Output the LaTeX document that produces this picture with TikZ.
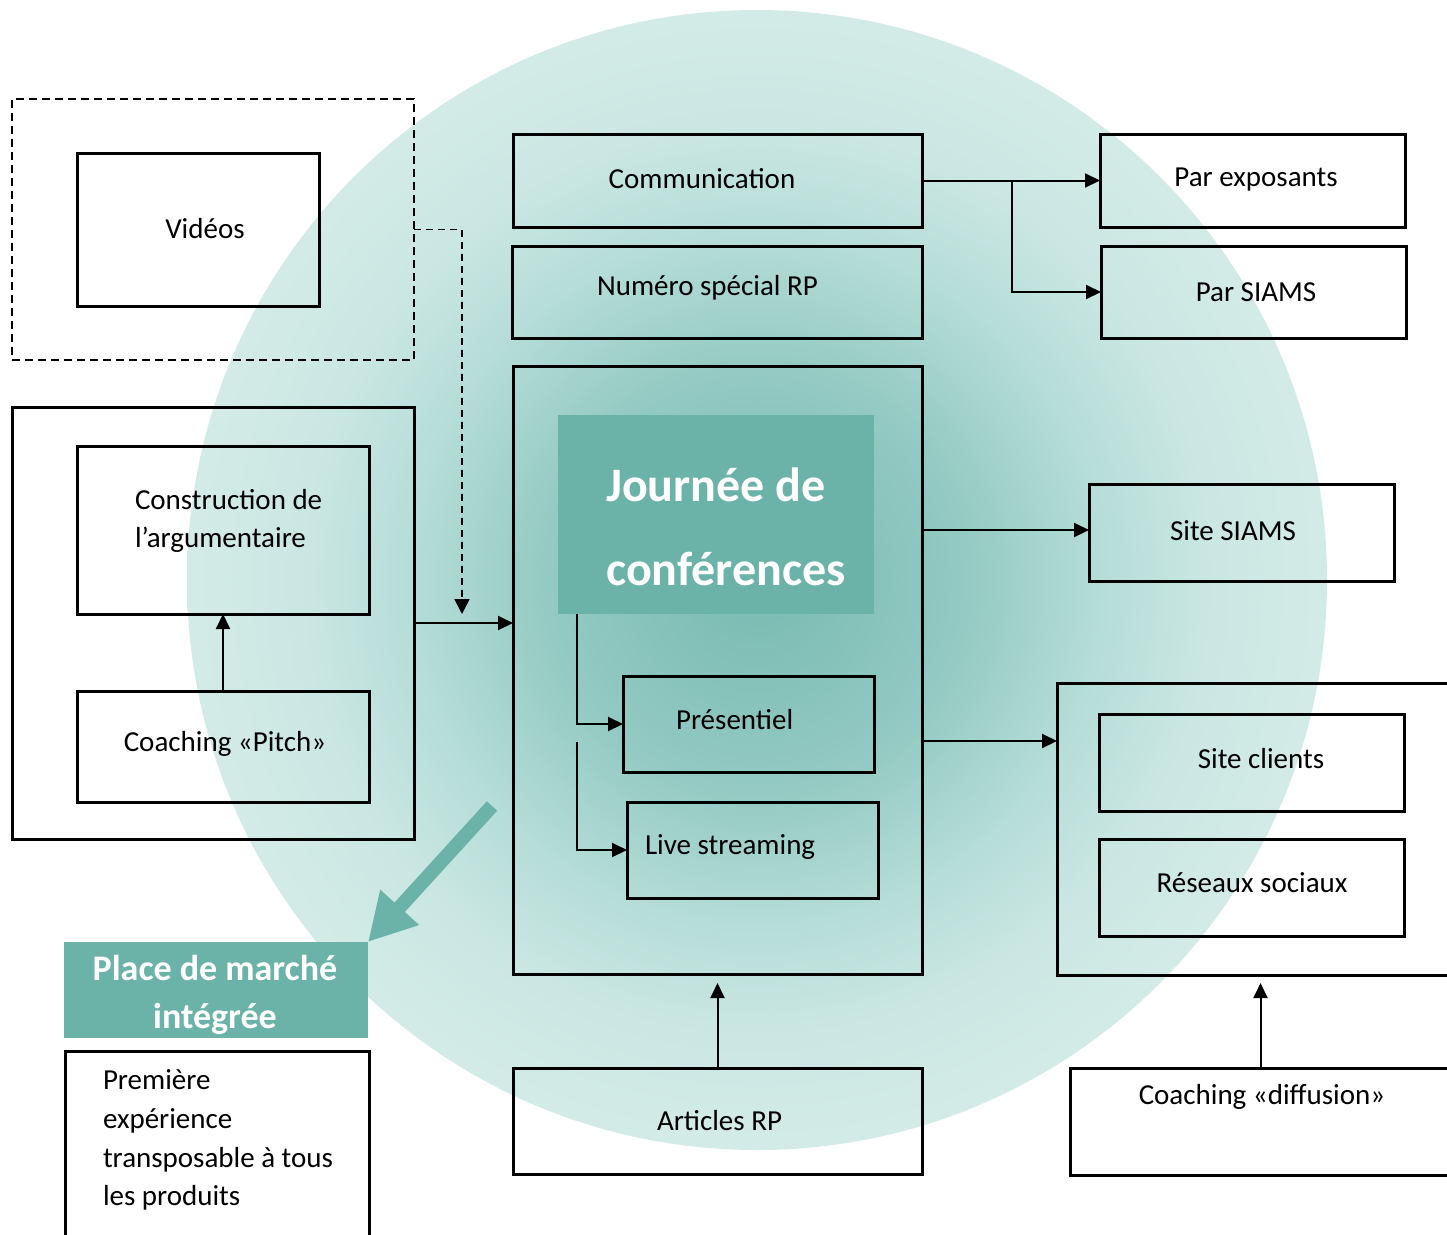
\documentclass[tikz,border=0pt]{standalone}
\usepackage{fontspec}
\setmainfont{Carlito}
\usetikzlibrary{arrows.meta}
\definecolor{tealmain}{HTML}{6BB3A9}
\definecolor{circA}{HTML}{78BAB1}
\definecolor{circB}{HTML}{94CAC3}
\definecolor{circC}{HTML}{B6DDD8}
\definecolor{circD}{HTML}{CBE7E3}
\definecolor{circE}{HTML}{D3EBE7}
\definecolor{circF}{HTML}{D5ECE8}
\pgfdeclareradialshading{circshade}{\pgfpoint{0bp}{0bp}}{color(0bp)=(circA); color(9.3bp)=(circB); color(15.2bp)=(circC); color(20.1bp)=(circD); color(24.8bp)=(circE); color(35.4bp)=(circF); color(50bp)=(circF)}
\newcommand{\mybox}[6][]{\node[boxst,#1,minimum width={(#5)-(#3)},minimum height={(#6)-(#4)}] (#2) at ({((#3)+(#5))/2},{((#4)+(#6))/2}) {};}
\begin{document}
\begin{tikzpicture}[x=1pt,y=-1pt,
  boxst/.style={draw=black, line width=3pt, inner sep=0pt, outer sep=0pt},
  dashbox/.style={draw=black, line width=2.2pt, dash pattern=on 8pt off 5pt},
  fillbox/.style={draw=none, fill=tealmain},
  txt/.style={inner sep=0pt, outer sep=0pt, font=\fontsize{29}{35}\selectfont, anchor=base},
  txtl/.style={txt, anchor=base west},
  ttl/.style={inner sep=0pt, text=white, font=\bfseries\fontsize{48}{58}\selectfont, anchor=base west},
  ptl/.style={inner sep=0pt, text=white, font=\bfseries\fontsize{36}{44}\selectfont, anchor=base},
  conn/.style={line width=2pt, -{Triangle[length=15pt,width=14pt]}},
  dconn/.style={line width=1.8pt, dash pattern=on 7pt off 5pt, -{Triangle[length=15pt,width=15pt]}},
  bigarrow/.style={line width=14pt, draw=tealmain, -{Triangle[length=47pt,width=49pt]}}]
\clip (0,0) rectangle (1447,1234);
\fill[white] (0,0) rectangle (1447,1234);
% background circle
\shade[shading=circshade] (757,580) circle[radius=570pt];

% left side
\mybox[dashbox]{dashb}{12}{99}{414}{360}
\mybox{vid}{77}{153}{319}{306}
\mybox{leftgrp}{12}{407}{414}{839}
\mybox{cons}{77}{446}{369}{614}
\mybox{pitch}{77}{691}{369}{802}

% centre column
\mybox{comm}{513}{134}{922}{227}
\mybox{num}{512}{246}{922}{338}
\mybox{jour}{513}{366}{922}{974}
\mybox[fillbox]{title}{558}{415}{874}{614}
\mybox{pres}{623}{676}{874}{772}
\mybox{live}{627}{802}{878}{898}
\mybox{art}{513}{1068}{922}{1174}

% right side
\mybox{parexp}{1100}{134}{1405}{227}
\mybox{parsiams}{1101}{246}{1406}{338}
\mybox{sitesiams}{1089}{484}{1394}{581}
\mybox{rgrp}{1057}{683}{1470}{975}
\mybox{siteclients}{1099}{714}{1404}{811}
\mybox{reseaux}{1099}{839}{1404}{936}
\mybox{coachdiff}{1070}{1068}{1470}{1175}

% bottom left
\mybox[fillbox]{place}{64}{942}{368}{1038}
\mybox{premiere}{65}{1051}{369}{1260}

% texts
\node[txt] (tvid) at (205,238) {Vidéos};
\node[txt] (tcomm) at (702,188.5) {Communication};
\node[txt] (tnum) at (707.5,295) {Numéro spécial RP};
\node[txt] (tparexp) at (1256,186) {Par exposants};
\node[txt] (tparsiams) at (1256,301.5) {Par SIAMS};
\node[txt] (tsitesiams) at (1233,540.5) {Site SIAMS};
\node[txt] (tsiteclients) at (1261,768.5) {Site clients};
\node[txt] (treseaux) at (1252,892.5) {Réseaux sociaux};
\node[txt] (tcoachdiff) at (1262,1104) {Coaching «diffusion»};
\node[txt] (tart) at (719.5,1130.5) {Articles RP};
\node[txtl] (tpres) at (676,729.5) {Présentiel};
\node[txtl] (tlive) at (645,854) {Live streaming};
\node[txtl] (tcons1) at (135,509) {Construction de};
\node[txtl] (tcons2) at (135,547) {l’argumentaire};
\node[txt] (tpitch) at (225,751.5) {Coaching «Pitch»};
\node[txtl] (tprem1) at (103,1089) {Première};
\node[txtl] (tprem2) at (103,1128) {expérience};
\node[txtl] (tprem3) at (103,1167) {transposable à tous};
\node[txtl] (tprem4) at (103,1205) {les produits};
\node[ttl] (ttitle1) at (606,501) {Journée de};
\node[ttl] (ttitle2) at (606,585) {conférences};
\node[ptl] (tplace1) at (215,980) {Place de marché};
\node[ptl] (tplace2) at (215,1028) {intégrée};

% connectors
\coordinate (brpt) at (1012,180.5);
\draw[conn] (comm.east) -- (parexp.west);
\draw[conn] (brpt) |- (parsiams.west);
\draw[conn] (jour.east |- sitesiams.west) ++(0,-2.5) -- ++(167,0) coordinate (ssend);
\draw[conn] (jour.east |- 0,741) -- (rgrp.west |- 0,741);
\draw[conn] (leftgrp.east) -- (jour.west |- leftgrp.east);
\coordinate (dtip) at (462,614);
\draw[dconn] (dashb.east |- 0,229.5) -| (dtip);
\draw[conn] (pitch.north) -- (cons.south);
\draw[conn] (title.south -| 577,0) |- (pres.west);
\coordinate (lsstart) at (577,742);
\draw[conn] (lsstart) |- (live.west);
\draw[conn, shorten >=9pt] (art.north) -- (jour.south);
\draw[conn, shorten >=8pt] (coachdiff.north -| 1260.5,0) -- (rgrp.south -| 1260.5,0);
\coordinate (tstart) at (492,806);
\draw[bigarrow] (tstart) -- (place.north east);
\end{tikzpicture}
\end{document}
